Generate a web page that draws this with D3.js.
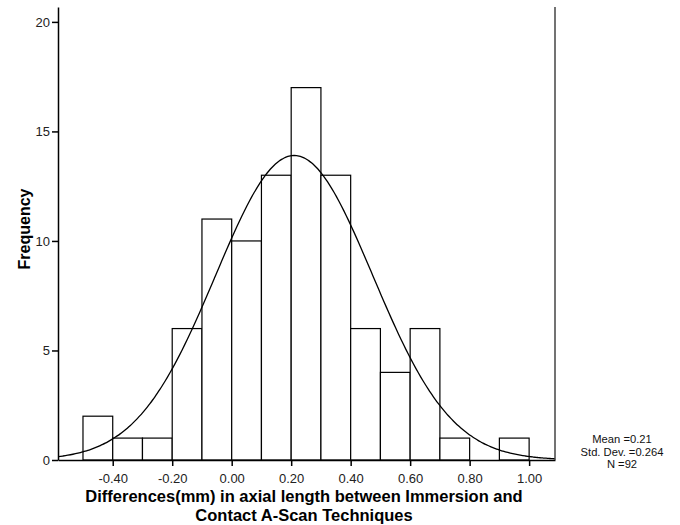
<!DOCTYPE html>
<html>
<head>
<meta charset="utf-8">
<script src="https://cdn.jsdelivr.net/npm/d3@7"></script>
<style>
  body { margin: 0; background: #fff; }
  text { font-family: "Liberation Sans", Arial, sans-serif; }
</style>
</head>
<body>
<svg id="chart" width="680" height="525"></svg>
<script>
// bin lower edges (width 0.1) and counts
var binStarts = [-0.5, -0.4, -0.3, -0.2, -0.1, 0.0, 0.1, 0.2, 0.3, 0.4, 0.5, 0.6, 0.7, 0.8, 0.9];
var counts = [2, 1, 1, 6, 11, 10, 13, 17, 13, 6, 4, 6, 1, 0, 1];
var binWidth = 0.1;
var xTicks = [-0.4, -0.2, 0.0, 0.2, 0.4, 0.6, 0.8, 1.0];
var yTicks = [0, 5, 10, 15, 20];
var stats = { mean: 0.21, sd: 0.264, n: 92 };

var svg = d3.select("#chart");
var mLeft = 58, mRight = 555, mTop = 7, mBottom = 460;

var x = d3.scaleLinear().domain([-0.584, 1.087]).range([mLeft, mRight]);
var y = d3.scaleLinear().domain([0, 20.68]).range([mBottom, mTop]);

// bars
svg.selectAll("rect.bar")
  .data(binStarts.map(function (s, i) { return { s: s, c: counts[i] }; }).filter(function (d) { return d.c > 0; }))
  .join("rect")
  .attr("class", "bar")
  .attr("x", function (d) { return x(d.s); })
  .attr("y", function (d) { return y(d.c); })
  .attr("width", function (d) { return x(d.s + binWidth) - x(d.s); })
  .attr("height", function (d) { return y(0) - y(d.c); })
  .attr("fill", "#fff")
  .attr("stroke", "#000")
  .attr("stroke-width", 1.2);

// fitted normal curve
var curvePts = d3.range(0, 201).map(function (i) {
  var v = -0.584 + (1.087 + 0.584) * i / 200;
  var z = (v - stats.mean) / stats.sd;
  return [v, stats.n * binWidth / (stats.sd * Math.sqrt(2 * Math.PI)) * Math.exp(-0.5 * z * z)];
});
svg.append("path")
  .datum(curvePts)
  .attr("d", d3.line().x(function (d) { return x(d[0]); }).y(function (d) { return y(d[1]); }).curve(d3.curveBasis))
  .attr("fill", "none")
  .attr("stroke", "#000")
  .attr("stroke-width", 1.3);

// axes
var fmt = d3.format(".2f");
var xAxis = svg.append("g")
  .attr("transform", "translate(0," + mBottom + ")")
  .call(d3.axisBottom(x).tickValues(xTicks)
    .tickFormat(function (d) { return fmt(d).replace("\u2212", "-"); })
    .tickSize(6).tickSizeOuter(0));
var yAxis = svg.append("g")
  .attr("transform", "translate(" + mLeft + ",0)")
  .call(d3.axisLeft(y).tickValues(yTicks).tickSize(6).tickSizeOuter(0));

[xAxis, yAxis].forEach(function (g) {
  g.select(".domain").attr("stroke", "#000").attr("stroke-width", 1.5);
  g.selectAll(".tick line").attr("stroke", "#000").attr("stroke-width", 1.5);
  g.selectAll(".tick text").attr("font-size", 13).attr("fill", "#222")
    .attr("font-family", "'Liberation Sans', Arial, sans-serif");
});
xAxis.selectAll(".tick text").attr("dy", "1.1em");
yAxis.selectAll(".tick text").attr("x", -8);

// right border
svg.append("line")
  .attr("x1", mRight).attr("x2", mRight).attr("y1", mTop).attr("y2", mBottom)
  .attr("stroke", "#444").attr("stroke-width", 1.5);

// axis titles
svg.append("text")
  .attr("transform", "translate(30,229) rotate(-90)")
  .attr("text-anchor", "middle")
  .attr("font-size", 16).attr("font-weight", "bold")
  .text("Frequency");

var xt = svg.append("text").attr("text-anchor", "middle").attr("font-size", 16.5).attr("font-weight", "bold");
xt.append("tspan").attr("x", 304).attr("y", 502).text("Differences(mm) in axial length between Immersion and");
xt.append("tspan").attr("x", 304).attr("y", 521).text("Contact A-Scan Techniques");

// stats legend
var legendLines = ["Mean =" + stats.mean, "Std. Dev. =" + stats.sd, "N =" + stats.n];
svg.selectAll("text.legend")
  .data(legendLines)
  .join("text")
  .attr("class", "legend")
  .attr("x", 622)
  .attr("y", function (d, i) { return 443 + i * 12.6; })
  .attr("text-anchor", "middle")
  .attr("font-size", 11.2)
  .attr("fill", "#111")
  .text(function (d) { return d; });
</script>
</body>
</html>
